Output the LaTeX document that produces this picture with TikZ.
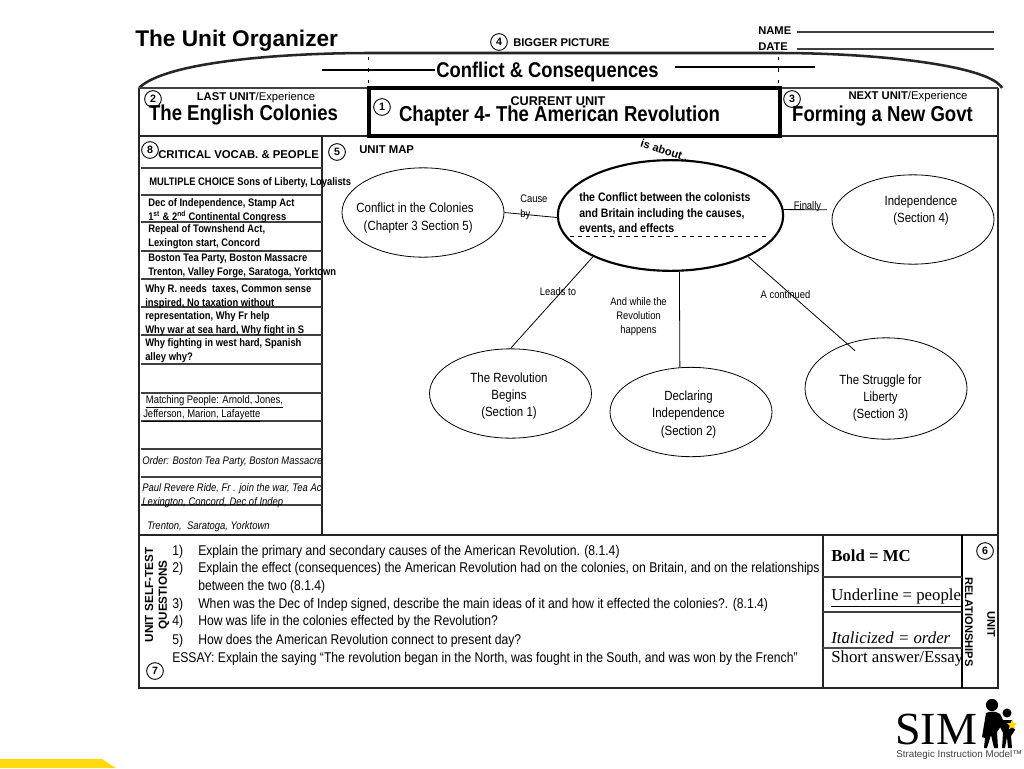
\documentclass[tikz,border=0pt]{standalone}
\usepackage{fontspec}
\setmainfont{Liberation Sans}
\newfontfamily\narrowfont[FakeStretch=0.86]{Liberation Sans}
\newfontfamily\legendfont{Liberation Serif}
\usepackage{tikz}
\usetikzlibrary{shapes,shapes.geometric,positioning,calc}
\usepackage{xcolor}
\newcommand{\fsz}[2]{\fontsize{#1}{#2}\selectfont}
\definecolor{simyellow}{HTML}{FFD90F}

\begin{document}
\begin{tikzpicture}[
    x=0.75pt, y=-0.75pt,
    frame/.style={line width=1.9pt, black!85},
    rowline/.style={line width=0.8pt, black!75},
    guide/.style={line width=0.7pt, dash pattern=on 2.5pt off 6pt},
    tag/.style={circle, draw, line width=0.7pt, minimum size=12.5pt, inner sep=0pt, font=\bfseries\fsz{8}{8}},
    lefttext/.style={anchor=west, inner sep=0pt, align=left},
    vocab/.style={lefttext, font=\narrowfont\bfseries\fsz{8.2}{10.4}},
    small/.style={lefttext, font=\bfseries\fsz{8.4}{9}},
    unithead/.style={inner sep=0pt, font=\fsz{8.45}{9}},
    unittitle/.style={inner sep=0pt, font=\narrowfont\bfseries\fsz{16.2}{17}},
    question/.style={lefttext, font=\narrowfont\fsz{10.6}{11}},
    legend/.style={lefttext, font=\legendfont\fsz{12.6}{13}},
    bubble/.style={ellipse, draw, line width=0.6pt, inner sep=0pt, minimum width=121.5pt, minimum height=67pt},
    bubbletext/.style={inner sep=0pt, align=center, font=\narrowfont\fsz{10}{13}},
    linklabel/.style={inner sep=0pt, align=center, font=\narrowfont\fsz{8.2}{10.4}},
]
    \useasboundingbox (0,0) rectangle (1024,768);
    \fill[white] (0,0) rectangle (1024,768);

    % header
    \node[lefttext, font=\bfseries\fsz{17}{18}] (title) at (135,41) {The Unit Organizer};
    \node[tag] (tagfour) at (499,42) {4};
    \node[small] (bigger) at (513,43) {BIGGER PICTURE};
    \node[small] (name) at (758,31) {NAME};
    \node[small] (date) at (758,47) {DATE};
    \draw[rowline] (797,32) -- (994,32);
    \draw[rowline] (797,49) -- (994,49);

    % frame
    \draw[frame] (139,88) .. controls (165,62) and (280,53) .. (370,53) -- (778,53) .. controls (880,53) and (990,66) .. (1002,88);
    \draw[frame] (139,88) -- (139,688) -- (998,688) -- (998,88);
    \draw[rowline] (139,88) -- (998,88);
    \draw[frame] (139,136) -- (998,136);
    \draw[frame] (322,136) -- (322,535);
    \draw[frame] (139,535) -- (998,535);
    \draw[frame] (823,535) -- (823,688);
    \draw[line width=1.1pt] (962,535) -- (962,688);
    \draw[line width=3.4pt] (369,88) rectangle (780,136);
    \draw[guide] (368,57) -- (368,86);
    \draw[guide] (778,57) -- (778,86);
    \draw[line width=1.3pt] (322,70) -- (435,70);
    \draw[line width=1.3pt] (675,67) -- (815,67);
    \node[inner sep=0pt, fill=white, font=\narrowfont\bfseries\fsz{16}{17}] (bigidea) at (547.5,72) {Conflict \& Consequences};

    % units
    \node[tag] (tagtwo) at (153,99) {2};
    \node[tag] (tagone) at (382,107) {1};
    \node[tag] (tagthree) at (792,99) {3};
    \node[unithead] (last) at (256,98) {\textbf{LAST UNIT}/Experience};
    \node[unithead, font=\fsz{9.5}{10}] (current) at (558,101) {\textbf{CURRENT UNIT}};
    \node[unithead] (next) at (908,97) {\textbf{NEXT UNIT}/Experience};
    \node[unittitle] (lastunit) at (243.5,115) {The English Colonies};
    \node[unittitle] (curunit) at (559.5,116) {Chapter 4- The American Revolution};
    \node[unittitle] (nextunit) at (882.5,116) {Forming a New Govt};

    % vocab rows
    \draw[rowline] (141,168) -- (322,168);
    \draw[rowline] (141,195) -- (322,195);
    \draw[rowline] (141,222) -- (322,222);
    \draw[rowline] (141,251) -- (322,251);
    \draw[rowline] (141,279) -- (322,279);
    \draw[rowline] (141,307) -- (322,307);
    \draw[rowline] (141,335) -- (322,335);
    \draw[rowline] (141,364) -- (322,364);
    \draw[rowline] (141,393) -- (322,393);
    \draw[rowline] (141,421) -- (322,421);
    \draw[rowline] (141,449) -- (322,449);
    \draw[rowline] (141,477) -- (322,477);
    \draw[rowline] (141,505) -- (322,505);

    \node[tag] (tageight) at (150,150) {8};
    \node[small, font=\bfseries\fsz{8.5}{9}] (critical) at (158,155) {CRITICAL VOCAB. \& PEOPLE};
    \node[vocab] (mc) at (149,183) {MULTIPLE CHOICE Sons of Liberty, Loyalists};
    \node[vocab] (rowa) at (148,211) {Dec of Independence, Stamp Act\\1\textsuperscript{st} \& 2\textsuperscript{nd} Continental Congress};
    \node[vocab] (rowb) at (148,237) {Repeal of Townshend Act,\\Lexington start, Concord};
    \node[vocab] (rowc) at (148,266) {Boston Tea Party, Boston Massacre\\Trenton, Valley Forge, Saratoga, Yorktown};
    \node[vocab] (rowd) at (145,296.5) {Why R. needs\ \ taxes, Common sense\\inspired, No taxation without};
    \node[vocab] (rowe) at (145,324) {representation, Why Fr help\\Why war at sea hard, Why fight in S};
    \node[vocab] (rowf) at (145,351) {Why fighting in west hard, Spanish\\alley why?};
    \node[lefttext, font=\narrowfont\fsz{8.25}{10.4}] (people) at (143,409) {\ \underline{Matching People: Arnold, Jones,}\\\underline{Jefferson, Marion, Lafayette}};
    \node[lefttext, font=\narrowfont\itshape\fsz{8.25}{10.4}] (ordera) at (142,462) {Order: Boston Tea Party, Boston Massacre};
    \node[lefttext, font=\narrowfont\itshape\fsz{8.25}{10.4}] (orderb) at (142,496) {Paul Revere Ride, Fr . join the war, Tea Ac\\Lexington, Concord, Dec of Indep};
    \node[lefttext, font=\narrowfont\itshape\fsz{8.25}{10.4}] (orderc) at (147,527) {Trenton,\ \ Saratoga, Yorktown};

    % unit map
    \node[tag] (tagfive) at (337,152) {5};
    \node[small, font=\bfseries\fsz{8.5}{9}] (unitmap) at (359,150) {UNIT MAP};
    \node[bubble, line width=1.6pt, minimum width=169pt, minimum height=83pt] (main) at (670.5,215.5) {};
    \node[bubble] (colonies) at (423,212.5) {};
    \node[bubble] (indep) at (913,219.5) {};
    \node[bubble] (begins) at (510.5,393.5) {};
    \node[bubble] (declaring) at (691,412) {};
    \node[bubble, minimum height=76pt] (struggle) at (886,388.5) {};
    \draw[line width=0.7pt, dashed] (570,236) -- (770,236);

    \node[inner sep=0pt, rotate=-18, font=\bfseries\fsz{8.4}{9}] (about) at (666,151) {is about...};
    \node[lefttext, font=\narrowfont\bfseries\fsz{9.2}{11.7}] (maintext) at (579,213.5) {the Conflict between the colonists\\and Britain including the causes,\\events, and effects};
    \node[bubbletext] (colonytext) at (415,218) {Conflict in the Colonies\\\ \ (Chapter 3 Section 5)};
    \node[bubbletext] (indeptext) at (921,210.5) {Independence\\(Section 4)};
    \node[bubbletext] (beginstext) at (509,396) {The Revolution\\Begins\\(Section 1)};
    \node[bubbletext] (declaretext) at (688.5,414.5) {Declaring\\Independence\\(Section 2)};
    \node[bubbletext] (liberty) at (880.5,398) {The Struggle for\\Liberty\\(Section 3)};

    \draw[line width=0.6pt] (colonies.east) -- (main.181);
    \draw[line width=0.6pt, shorten >=5pt] (main.3) -- (indep.173);
    \draw[line width=0.6pt] (main.208) -- (begins.north);
    \draw[line width=0.6pt] (main.-81) -- (declaring.104);
    \draw[line width=0.6pt, shorten >=-8pt] (main.-28) -- (struggle.131);

    \node[linklabel, lefttext, font=\narrowfont\fsz{8.2}{11}] (cause) at (520,207.5) {Cause\\by};
    \node[linklabel] (finally) at (807.5,207) {Finally};
    \node[linklabel] (leads) at (558,292) {Leads to};
    \node[linklabel] (while) at (638.5,317) {And while the\\Revolution\\happens};
    \node[linklabel] (continued) at (785.5,295) {A continued};

    % self-test
    \node[inner sep=0pt, rotate=90, align=center, font=\bfseries\fsz{8.8}{10.4}] (selftest) at (157,595) {UNIT SELF-TEST\\QUESTIONS};
    \node[tag] (tagseven) at (155,671) {7};
    \node[question] (numa) at (172,552) {1)};
    \node[question] (numb) at (172,569) {2)};
    \node[question] (numc) at (172,605) {3)};
    \node[question] (numd) at (172,622) {4)};
    \node[question] (nume) at (172,641) {5)};
    \node[question] (qa) at (198,552) {Explain the primary and secondary causes of the American Revolution. (8.1.4)};
    \node[question] (qb) at (198,569) {Explain the effect (consequences) the American Revolution had on the colonies, on Britain, and on the relationships};
    \node[question] (qbb) at (198,587) {between the two (8.1.4)};
    \node[question] (qc) at (198,605) {When was the Dec of Indep signed, describe the main ideas of it and how it effected the colonies?. (8.1.4)};
    \node[question] (qd) at (198,622) {How was life in the colonies effected by the Revolution?};
    \node[question] (qe) at (198,641) {How does the American Revolution connect to present day?};
    \node[question] (essay) at (172,659) {ESSAY: Explain the saying “The revolution began in the North, was fought in the South, and was won by the French”};

    % legend
    \draw[rowline] (823,577) -- (962,577);
    \draw[rowline] (823,612) -- (962,612);
    \draw[line width=1pt, black!70] (823,648) -- (962,648);
    \node[legend] (bold) at (831,556) {\textbf{Bold = MC}};
    \node[legend] (under) at (831,598) {\underline{Underline = people}};
    \node[legend] (ital) at (831,638) {\textit{Italicized = order}};
    \node[legend] (short) at (831,658) {Short answer/Essay};
    \node[tag] (tagsix) at (985,551) {6};
    \node[inner sep=0pt, rotate=-90, font=\bfseries\fsz{8.3}{9}] (relations) at (969,622) {RELATIONSHIPS};
    \node[inner sep=0pt, rotate=-90, font=\bfseries\fsz{8.3}{9}] (unitlabel) at (991,624) {UNIT};

    % logo
    \node[inner sep=0pt, anchor=west, font=\legendfont\fsz{34.5}{35}] (sim) at (895,729) {SIM};
    \fill (992,705) circle (4.6pt);
    \fill (1007,713) circle (3.4pt);
    \fill (986,713) .. controls (990,711) and (996,711) .. (1000,714) -- (1004,722) -- (1001,726) -- (997,732) -- (998,748) -- (994,748) -- (991,735) -- (987,748) -- (984,748) -- (986,728) -- (985,738) -- (982,737) -- cycle;
    \fill (1001,720) -- (1012,720) -- (1015,730) -- (1011,736) -- (1012,748) -- (1008,748) -- (1007,737) -- (1005,748) -- (1002,748) -- (1003,733) -- (999,725) -- cycle;
    \node[star, star points=5, star point ratio=2.2, fill=simyellow, inner sep=0pt, minimum size=8pt] (simstar) at (1012,725) {};
    \node[lefttext, text=black!75, font=\fsz{7.35}{8}] (simtext) at (896,755) {Strategic Instruction Model™};
    \fill[simyellow] (0,759) -- (102,759) -- (116,768) -- (0,768) -- cycle;
\end{tikzpicture}
\end{document}
